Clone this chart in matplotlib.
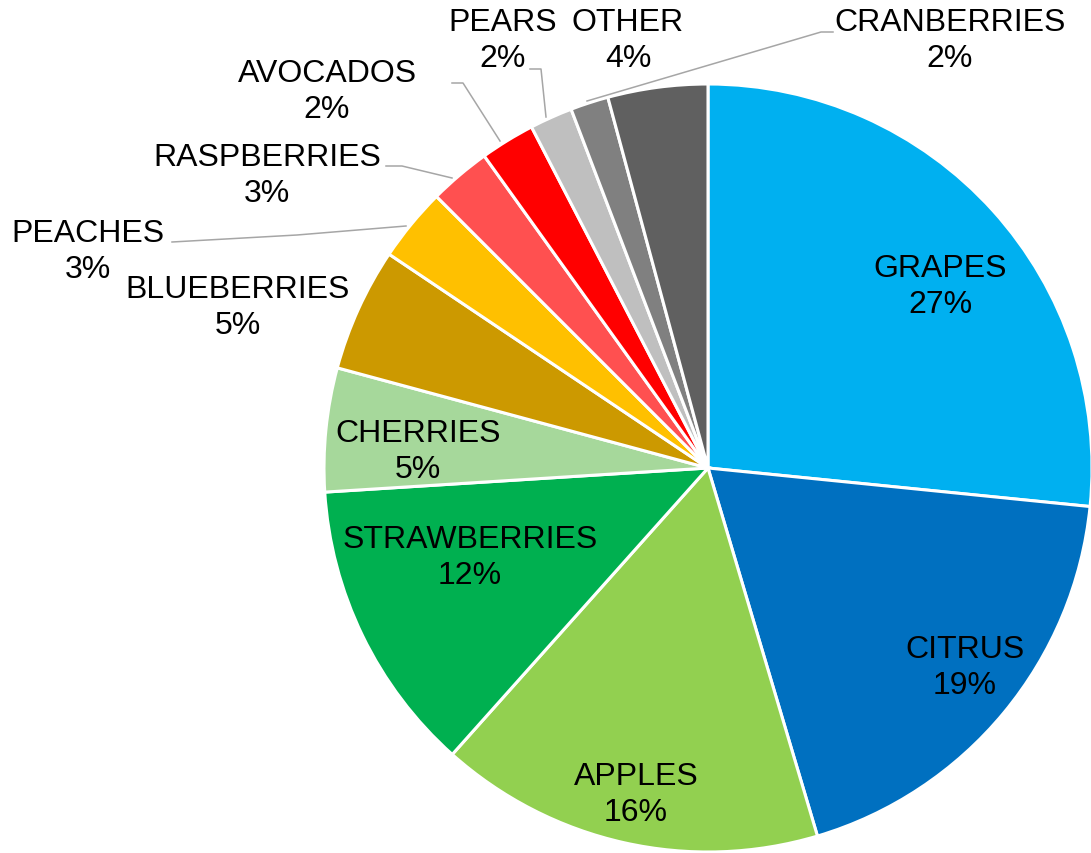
import matplotlib.pyplot as plt

fruits = ['GRAPES', 'CITRUS', 'APPLES', 'STRAWBERRIES', 'CHERRIES', 'BLUEBERRIES',
          'PEACHES', 'RASPBERRIES', 'AVOCADOS', 'PEARS', 'CRANBERRIES', 'OTHER']
shares = [26.6, 18.8, 16.2, 12.4, 5.2, 5.2, 3.1, 2.6, 2.3, 1.8, 1.6, 4.2]
colors = ['#00B0F0', '#0070C0', '#92D050', '#00B050', '#A6D89B', '#CC9900',
          '#FFC000', '#FF5050', '#FF0000', '#BFBFBF', '#808080', '#606060']

# label centres in pixel coords (from top-left), leader lines where Excel drew them
label_pos = {
    'GRAPES': (940, 287), 'CITRUS': (965, 668), 'APPLES': (636, 795),
    'STRAWBERRIES': (470, 558), 'CHERRIES': (418, 452), 'BLUEBERRIES': (238, 308),
    'PEACHES': (88, 252), 'RASPBERRIES': (267, 176), 'AVOCADOS': (327, 92),
    'PEARS': (503, 41), 'CRANBERRIES': (950, 41), 'OTHER': (628, 41),
}
leaders = {
    'PEACHES': [(172, 243), (297, 236), (406, 227)],
    'RASPBERRIES': [(386, 167), (402, 167), (452, 179)],
    'AVOCADOS': [(452, 84), (463, 84), (500, 142)],
    'PEARS': [(530, 70), (541, 70), (546, 118)],
    'CRANBERRIES': [(833, 33), (821, 33), (587, 102)],
}

W, H = 1091, 854
fig = plt.figure(figsize=(W / 100, H / 100), dpi=100)
ax = fig.add_axes([0, 0, 1, 1])

ax.pie(shares, colors=colors, startangle=90, counterclock=False,
       center=(708, H - 469), radius=384,
       wedgeprops=dict(edgecolor='white', linewidth=2.2))

for name, s in zip(fruits, shares):
    x, y = label_pos[name]
    ax.text(x, H - y, f"{name}\n{round(s)}%", ha='center', va='center',
            fontsize=23, family='Liberation Sans', linespacing=1.25, color='black')

for name, pts in leaders.items():
    ax.plot([p[0] for p in pts], [H - p[1] for p in pts], color='#A6A6A6', lw=1.1)

ax.set_xlim(0, W)
ax.set_ylim(0, H)
ax.set_aspect('equal')
ax.axis('off')

fig.savefig('out.png', dpi=100)
